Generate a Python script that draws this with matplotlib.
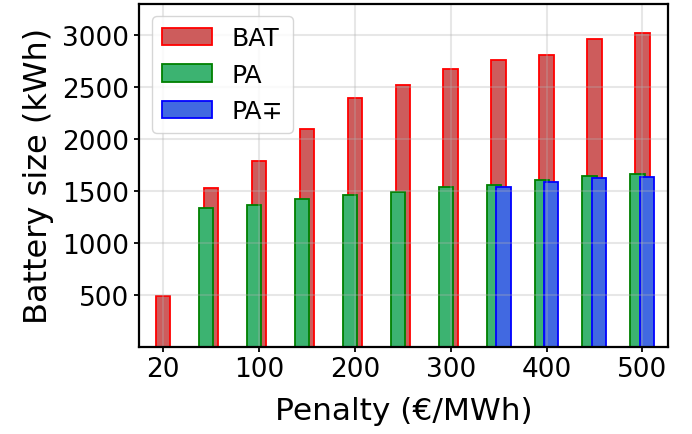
import numpy as np
import matplotlib
matplotlib.use('Agg')
import matplotlib.pyplot as plt

# Penalty levels (EUR/MWh) and optimal battery sizes (kWh)
penalties = [20, 50, 100, 150, 200, 250, 300, 350, 400, 450, 500]
bat = [485, 1523, 1783, 2091, 2391, 2519, 2670, 2760, 2811, 2961, 3019]
pa = [None, 1334, 1366, 1423, 1456, 1494, 1542, 1555, 1603, 1644, 1663]
pa_mp = [None, None, None, None, None, None, None, 1542, 1584, 1622, 1632]

x = np.arange(len(penalties))
width = 0.3

def valid(xs, vals):
    pts = [(xi, v) for xi, v in zip(xs, vals) if v is not None]
    return [p[0] for p in pts], [p[1] for p in pts]

fig = plt.figure(figsize=(6.92, 4.35), dpi=100)
ax = fig.add_axes([0.201, 0.2007, 0.764, 0.788])

ax.bar(x, bat, width, color='indianred', edgecolor='red', linewidth=1.3, label='BAT')
xs, vs = valid(x - 0.1, pa)
ax.bar(xs, vs, width, color='mediumseagreen', edgecolor='green', linewidth=1.3, label='PA')
xs, vs = valid(x + 0.1, pa_mp)
ax.bar(xs, vs, width, color='royalblue', edgecolor='blue', linewidth=1.3, label='PA\u2213')

ax.set_xlim(-0.5, 10.53)
ax.set_ylim(0, 3300)
ax.set_xticks(x[::2])
ax.set_xticklabels([str(p) for p in penalties[::2]])
ax.set_yticks([500, 1000, 1500, 2000, 2500, 3000])
ax.tick_params(labelsize=19, width=1.3)
ax.set_xlabel('Penalty (\u20ac/MWh)', fontsize=22.5, labelpad=10)
ax.set_ylabel('Battery size (kWh)', fontsize=23, labelpad=6)
ax.grid(True, alpha=0.3, linewidth=1.5)
for s in ax.spines.values():
    s.set_linewidth(1.6)

ax.legend(loc='upper left', fontsize=18)

plt.savefig('out.png', dpi=100)
